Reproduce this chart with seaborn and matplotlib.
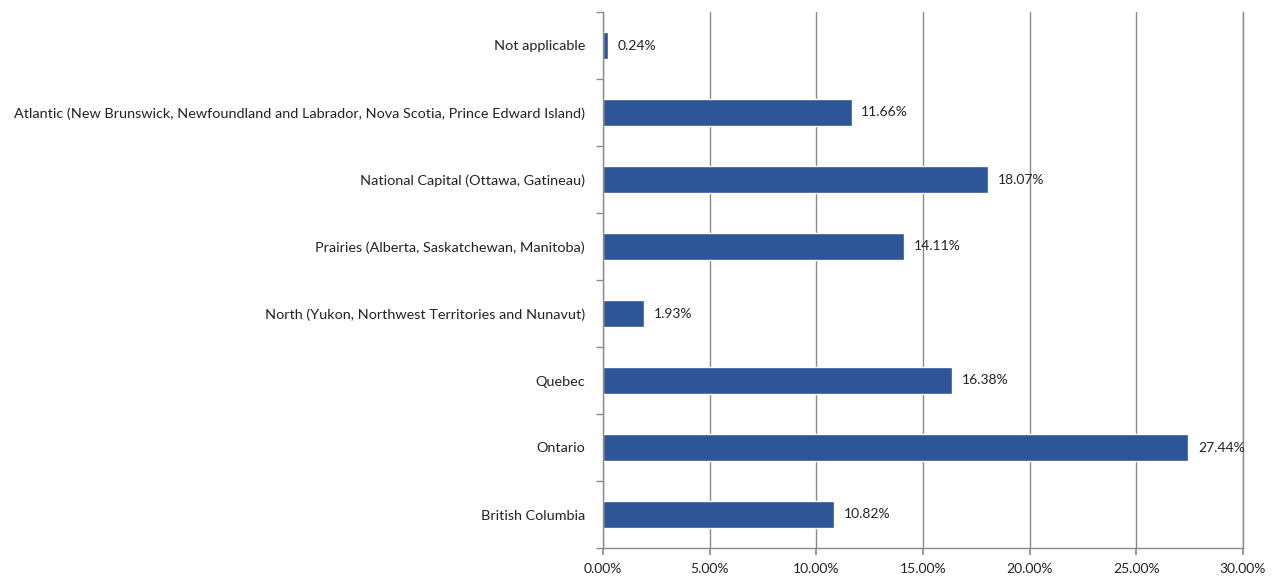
import matplotlib
matplotlib.use("Agg")
import matplotlib.pyplot as plt
import seaborn as sns
import pandas as pd
from matplotlib.ticker import FixedLocator, MultipleLocator, FuncFormatter

categories = [
    "Not applicable",
    "Atlantic (New Brunswick, Newfoundland and Labrador, Nova Scotia, Prince Edward Island)",
    "National Capital (Ottawa, Gatineau)",
    "Prairies (Alberta, Saskatchewan, Manitoba)",
    "North (Yukon, Northwest Territories and Nunavut)",
    "Quebec",
    "Ontario",
    "British Columbia",
]
values = [0.24, 11.66, 18.07, 14.11, 1.93, 16.38, 27.44, 10.82]

df = pd.DataFrame({"region": categories, "pct": values})

sns.set_theme(style="white")
plt.rcParams['font.family'] = ['Lato', 'DejaVu Sans']

fig = plt.figure(figsize=(12.82, 5.79), dpi=100)
ax = fig.add_axes([603/1282, 1-548/579, 640/1282, 536/579])

sns.barplot(data=df, x="pct", y="region", order=categories, color="#2E5597",
            saturation=1, width=0.4, orient="h", ax=ax)

ax.set_xlim(0, 30)
ax.set_ylim(7.5, -0.5)
ax.xaxis.set_major_locator(MultipleLocator(5))
ax.xaxis.set_major_formatter(FuncFormatter(lambda v, p: f"{v:.2f}%"))
ax.grid(axis="x", color="#8a8a8a", linewidth=1)
ax.set_axisbelow(True)
ax.set_xlabel("")
ax.set_ylabel("")

ax.spines["top"].set_visible(False)
for s in ["left", "bottom", "right"]:
    ax.spines[s].set_color("#8a8a8a")
    ax.spines[s].set_linewidth(1)

ax.yaxis.set_minor_locator(FixedLocator([i - 0.5 for i in range(9)]))
ax.tick_params(axis="y", which="major", length=0, labelsize=10.4, colors="#222222", pad=13)
ax.tick_params(axis="y", which="minor", length=5, color="#8a8a8a", left=True, direction="out")
ax.tick_params(axis="x", which="major", length=5, color="#8a8a8a", bottom=True, direction="out",
               labelsize=10, labelcolor="#222222", pad=6)

for i, v in enumerate(values):
    ax.text(v + 0.45, i, f"{v:.2f}%", va="center", ha="left", fontsize=10, color="#222222")

fig.savefig("out.png", dpi=100)
